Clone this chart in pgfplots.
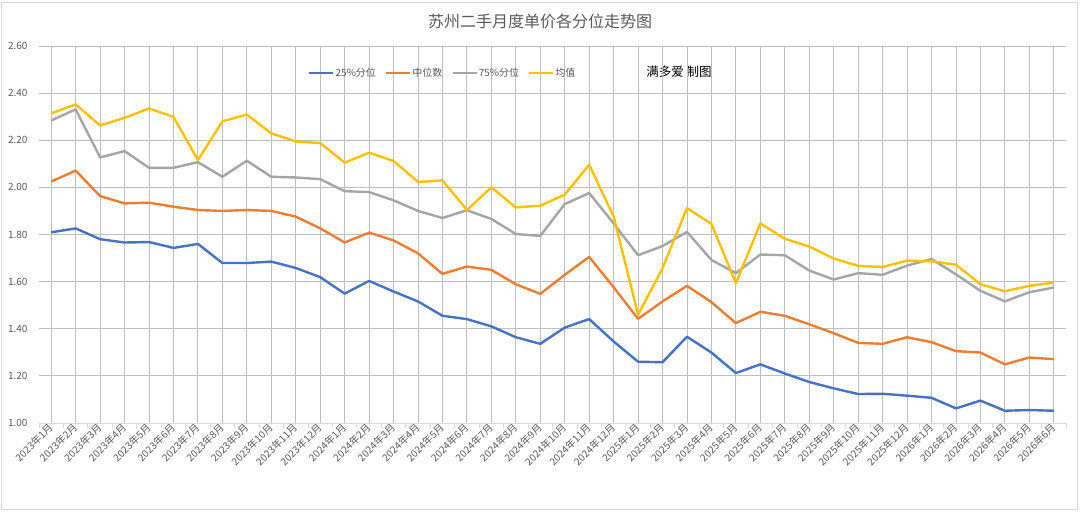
\documentclass[border=0pt]{standalone}
\usepackage{fontspec}
\setmainfont{Noto Sans CJK SC}
\usepackage{pgfplots}
\usepackage{pgfplotstable}
\pgfplotsset{compat=1.18}
\definecolor{cblue}{HTML}{4472C4}
\definecolor{corange}{HTML}{ED7D31}
\definecolor{cgray}{HTML}{A5A5A5}
\definecolor{cgold}{HTML}{FFC000}
\definecolor{txt}{HTML}{595959}
\definecolor{grid}{HTML}{D9D9D9}
\pgfplotstableread{
x p25 p50 p75 mean
0 1.809 2.025 2.284 2.314
1 1.826 2.071 2.331 2.352
2 1.780 1.963 2.127 2.263
3 1.766 1.932 2.154 2.295
4 1.768 1.935 2.083 2.335
5 1.743 1.918 2.083 2.299
6 1.760 1.904 2.107 2.116
7 1.679 1.900 2.045 2.280
8 1.679 1.904 2.113 2.309
9 1.685 1.900 2.045 2.229
10 1.658 1.876 2.042 2.195
11 1.619 1.826 2.035 2.188
12 1.549 1.766 1.984 2.105
13 1.603 1.808 1.980 2.147
14 1.558 1.775 1.945 2.112
15 1.516 1.720 1.900 2.023
16 1.455 1.633 1.870 2.030
17 1.441 1.664 1.903 1.904
18 1.410 1.650 1.866 2.000
19 1.364 1.589 1.802 1.915
20 1.336 1.548 1.794 1.922
21 1.405 1.629 1.929 1.969
22 1.441 1.705 1.976 2.096
23 1.346 1.576 1.847 1.876
24 1.260 1.442 1.712 1.459
25 1.258 1.516 1.751 1.657
26 1.366 1.582 1.811 1.912
27 1.299 1.513 1.692 1.845
28 1.212 1.424 1.636 1.593
29 1.249 1.472 1.715 1.847
30 1.210 1.455 1.712 1.782
31 1.174 1.419 1.647 1.749
32 1.147 1.381 1.609 1.698
33 1.123 1.340 1.636 1.667
34 1.124 1.336 1.629 1.662
35 1.116 1.364 1.668 1.689
36 1.107 1.343 1.696 1.686
37 1.062 1.305 1.631 1.672
38 1.095 1.299 1.561 1.589
39 1.052 1.249 1.516 1.559
40 1.055 1.278 1.555 1.582
41 1.052 1.271 1.575 1.596
}\datatable
\begin{document}
\begin{tikzpicture}[x=1pt,y=1pt]
\useasboundingbox (0,0) rectangle (1080,512);
\draw[grid, line width=0.8pt] (1.5,3) rectangle (1077.5,510);
\node[txt, font=\fontsize{16}{18}\selectfont] at (540,491) {苏州二手月度单价各分位走势图};
\node[black, font=\fontsize{12.5}{14}\selectfont] at (679,440) {满多爱 制图};
\begin{axis}[
  at={(39pt,89pt)}, anchor=south west,
  scale only axis, width=1027pt, height=377pt,
  xmin=-0.5, xmax=41.5, ymin=1, ymax=2.6,
  ytick={1,1.2,...,2.61},
  /pgf/number format/fixed, /pgf/number format/fixed zerofill, /pgf/number format/precision=2,
  /pgf/number format/assume math mode=true,
  yticklabel style={font=\fontsize{10}{12}\selectfont, text=txt, xshift=-8pt},
  ymajorgrids, grid style={grid, line width=0.9pt},
  axis line style={draw=none},
  major tick length=0pt,
  xtick={0,...,41},
  xticklabels={2023年1月,2023年2月,2023年3月,2023年4月,2023年5月,2023年6月,2023年7月,2023年8月,2023年9月,2023年10月,2023年11月,2023年12月,2024年1月,2024年2月,2024年3月,2024年4月,2024年5月,2024年6月,2024年7月,2024年8月,2024年9月,2024年10月,2024年11月,2024年12月,2025年1月,2025年2月,2025年3月,2025年4月,2025年5月,2025年6月,2025年7月,2025年8月,2025年9月,2025年10月,2025年11月,2025年12月,2026年1月,2026年2月,2026年3月,2026年4月,2026年5月,2026年6月},
  xticklabel style={font=\fontsize{10}{12}\selectfont, text=txt, rotate=45, anchor=east, xshift=1pt, yshift=-2pt},
  extra x ticks={-0.5,0.5,...,41.6},
  extra x tick labels={},
  extra x tick style={major tick length=5pt, tick pos=bottom, tick align=outside, tick style={grid, line width=0.9pt}, grid=none},
  legend columns=4,
  legend style={draw=none, fill=none, at={(axis description cs:0.262,0.928)}, anchor=west, inner sep=0pt,
    font=\fontsize{10}{12}\selectfont, text=txt,
    /tikz/every even column/.append style={column sep=8pt},
    nodes={inner sep=1pt}},
  legend image code/.code={\draw[#1] (0pt,0pt) -- (24pt,0pt);},
  every axis plot/.append style={line width=2.4pt, line join=round, mark=none},
  clip=false,
]
\draw[grid, line width=0.9pt] (axis cs:-0.5,1) -- (axis cs:41.5,1);
\addplot[cblue] table[x=x,y=p25] {\datatable};
\addlegendentry{25\%分位}
\addplot[corange] table[x=x,y=p50] {\datatable};
\addlegendentry{中位数}
\addplot[cgray] table[x=x,y=p75] {\datatable};
\addlegendentry{75\%分位}
\addplot[cgold] table[x=x,y=mean] {\datatable};
\addlegendentry{均值}
\end{axis}
\end{tikzpicture}
\end{document}
